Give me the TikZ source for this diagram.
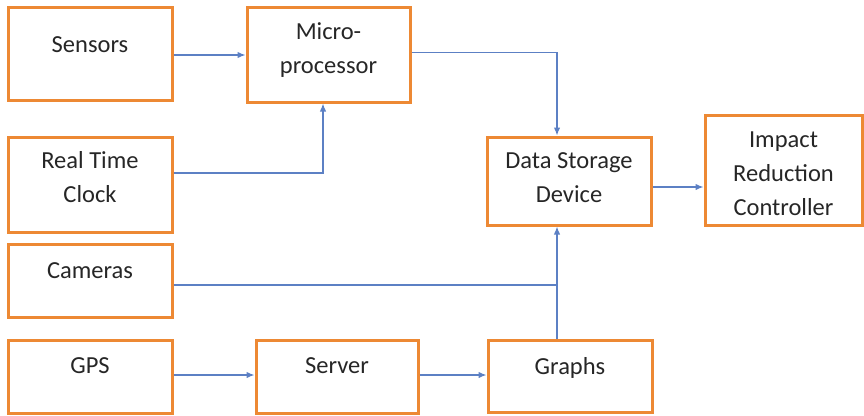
\documentclass[tikz,border=0pt]{standalone}
\usepackage{fontspec}
\setmainfont{Carlito}
\usetikzlibrary{arrows.meta}
\definecolor{boxorange}{RGB}{237,137,52}
\definecolor{linkblue}{RGB}{92,128,196}
\definecolor{inkgray}{RGB}{38,38,38}
\begin{document}
\begin{tikzpicture}[x=1pt,y=-1pt,
  block/.style={draw=boxorange, line width=3pt, inner sep=0pt},
  txt/.style={font=\fontsize{24.5}{34}\selectfont, text=inkgray, align=center,
    anchor=base, inner sep=0pt},
  conn/.style={draw=linkblue, line width=1.3pt},
  arr/.style={conn, -{Latex[length=8pt,width=6.5pt]}}]
\useasboundingbox (0,0) rectangle (864,415);

% boxes
\node[block, minimum width=164, minimum height=93] (sensors) at (90,53.5) {};
\node[block, minimum width=163, minimum height=95] (micro)   at (328.5,54.5) {};
\node[block, minimum width=164, minimum height=95] (rtc)     at (90,184.5) {};
\node[block, minimum width=164, minimum height=73] (cameras) at (90,280.5) {};
\node[block, minimum width=164, minimum height=73] (gps)     at (90,376.5) {};
\node[block, minimum width=162, minimum height=73] (server)  at (337,376.5) {};
\node[block, minimum width=164, minimum height=72] (graphs)  at (570,376) {};
\node[block, minimum width=164, minimum height=88] (dsd)     at (569,181) {};
\node[block, minimum width=157, minimum height=110] (impact) at (783.5,170) {};

% labels (the base anchor sits on the last line's baseline)
\node[txt] (sensorsT) at (90,52)    {Sensors};
\node[txt] (microT)   at (328.5,73) {Micro-\\processor};
\node[txt] (rtcT)     at (90,202)   {Real Time\\Clock};
\node[txt] (camerasT) at (90,278)   {Cameras};
\node[txt] (gpsT)     at (90,373)   {GPS};
\node[txt] (serverT)  at (337,373)  {Server};
\node[txt] (graphsT)  at (570,374)  {Graphs};
\node[txt] (dsdT)     at (569,202)  {Data Storage\\Device};
\node[txt] (impactT)  at (783.5,215) {Impact\\Reduction\\Controller};

% junction where the camera feed meets the graph feed
\coordinate (join) at (557,285);

% connectors
\draw[arr] ([yshift=-1.5pt]sensors.east) -- ([yshift=-1.5pt]sensors.east -| micro.west);
\draw[arr] ([yshift=11.5pt]rtc.east) -| ([xshift=-5.5pt]micro.south);
\draw[arr] ([yshift=2pt]micro.east) -| ([xshift=-12pt]dsd.north);
\draw[arr] ([yshift=-6pt]dsd.east) -- ([yshift=-6pt]dsd.east -| impact.west);
\draw[conn] (cameras.east |- join) -- (join);
\draw[arr] (graphs.north -| join) -- (dsd.south -| join);
\draw[arr] ([yshift=1.5pt]gps.east) -- ([yshift=1.5pt]gps.east -| server.west);
\draw[arr] ([yshift=1.5pt]server.east) -- ([yshift=1.5pt]server.east -| graphs.west);
\end{tikzpicture}
\end{document}
